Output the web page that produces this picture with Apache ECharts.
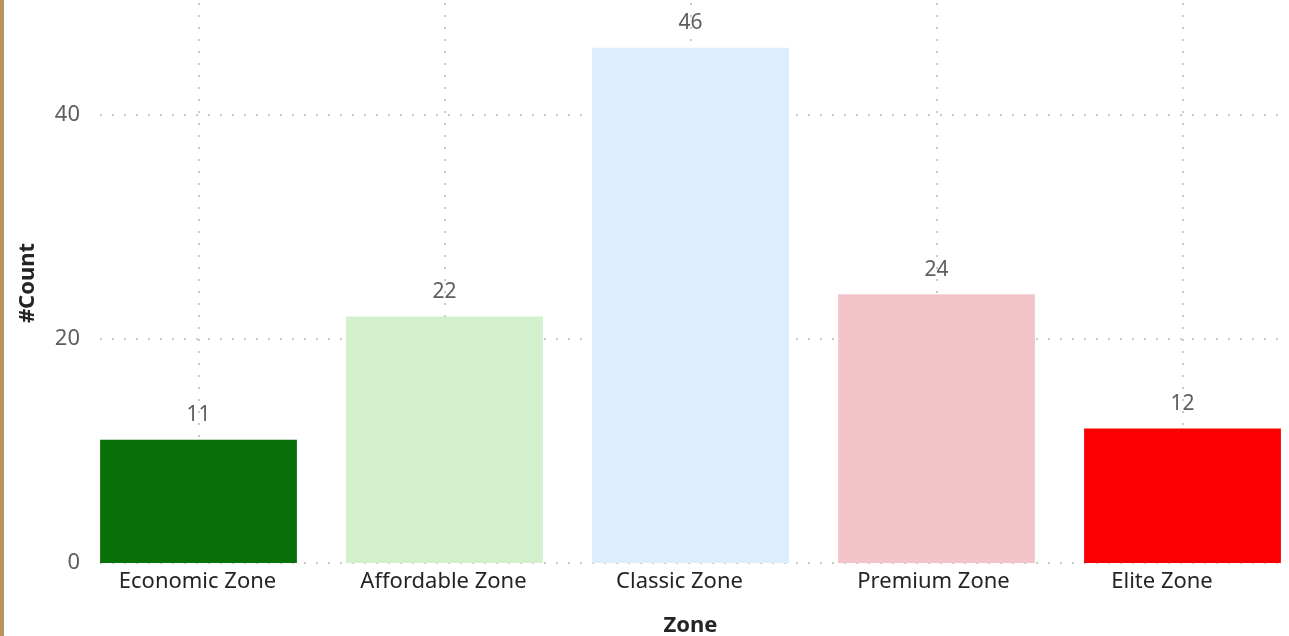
<!DOCTYPE html>
<html>
<head>
<meta charset="utf-8">
<script src="https://cdn.jsdelivr.net/npm/echarts@6/dist/echarts.min.js"></script>
<style>
  html, body { margin: 0; padding: 0; background: #ffffff; }
  #chart { position: absolute; left: 0; top: 0; width: 1289px; height: 636px; }
  #edge { position: absolute; left: 0; top: 0; width: 4px; height: 636px; background: #b8935e; }
</style>
</head>
<body>
<div id="chart"></div>
<div id="edge"></div>
<script>
const categories = ['Economic Zone', 'Affordable Zone', 'Classic Zone', 'Premium Zone', 'Elite Zone'];
const counts = [11, 22, 46, 24, 12];
const barColors = ['#077008', '#d3f0cd', '#dcedfe', '#f2c4ca', '#fa0000'];
const yTicks = [0, 20, 40];

const FONT = '"Noto Sans", "Open Sans", sans-serif';
const dotted = { color: '#c8c8c8', width: 2, type: [2, 10] };
// label nudges (right padding in px) to mimic the original label placement
const labelPadRight = [2, 2, 22, 6, 41];

const chart = echarts.init(document.getElementById('chart'));
chart.setOption({
  animation: false,
  grid: [
    { left: 75.5, right: -16.5, top: 3, bottom: 73, outerBoundsMode: 'none', containLabel: false },
    { left: 100, right: 8, top: 115, bottom: 73, outerBoundsMode: 'none', containLabel: false }
  ],
  xAxis: [
    {
      type: 'category', gridIndex: 0,
      data: categories.map((c, i) => ({ value: c, textStyle: { padding: [0, labelPadRight[i], 0, 0] } })),
      axisLine: { show: false }, axisTick: { show: false },
      axisLabel: { color: '#252423', fontSize: 22, fontFamily: FONT, margin: 8 },
      splitLine: { show: true, alignWithLabel: true, lineStyle: dotted },
      name: 'Zone', nameLocation: 'middle', nameGap: 52,
      nameTextStyle: { color: '#252423', fontSize: 22, fontWeight: 'bold', fontFamily: FONT }
    },
    { type: 'value', gridIndex: 1, show: false, min: 0, max: 1 }
  ],
  yAxis: [
    {
      type: 'value', gridIndex: 0, min: 0, max: 50,
      axisLine: { show: false }, axisTick: { show: false }, axisLabel: { show: false },
      splitLine: { show: false },
      name: '#Count', nameLocation: 'middle', nameGap: 37, nameRotate: 90,
      nameTextStyle: { color: '#252423', fontSize: 22, fontWeight: 'bold', fontFamily: FONT }
    },
    {
      type: 'value', gridIndex: 1, min: yTicks[0], max: yTicks[yTicks.length - 1], interval: yTicks[1] - yTicks[0],
      axisLine: { show: false }, axisTick: { show: false },
      axisLabel: { color: '#605e5c', fontSize: 22, fontFamily: FONT, margin: 20 },
      splitLine: { show: true, lineStyle: dotted }
    }
  ],
  series: [{
    type: 'bar', xAxisIndex: 0, yAxisIndex: 0,
    data: counts.map((v, i) => ({ value: v, itemStyle: { color: barColors[i] } })),
    barCategoryGap: '20%',
    label: { show: true, position: 'top', distance: 14, color: '#605e5c', fontSize: 21, fontFamily: FONT }
  }]
});
</script>
</body>
</html>
